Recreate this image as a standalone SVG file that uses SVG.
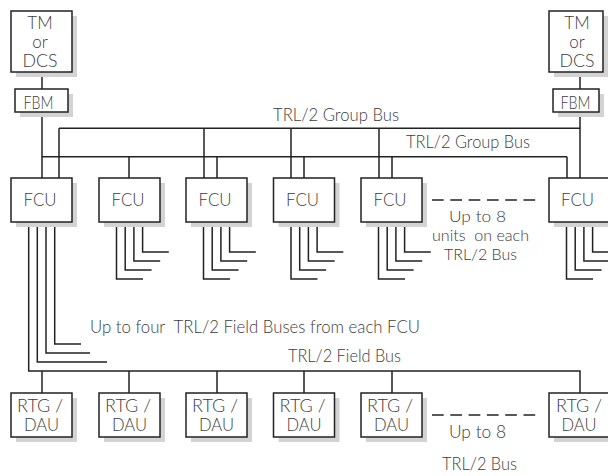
<svg xmlns="http://www.w3.org/2000/svg" width="608" height="476" viewBox="0 0 608 476">
<style>
.shadow{fill:#d3d3d3;stroke:none}
.box{fill:#fff;stroke:#222;stroke-width:1.5}
.ln{fill:none;stroke:#222;stroke-width:1.5}
.dash{fill:none;stroke:#222;stroke-width:1.5;stroke-dasharray:11.7 6.6}
text{font-family:Lato,"Open Sans","Liberation Sans",sans-serif;font-weight:300;font-size:17px;fill:#3c3c3c;white-space:pre}
.c{text-anchor:middle}
.s{font-size:15.5px}
</style>
<rect width="608" height="476" fill="#fff"/>
<g id="connectors">
<path class="ln" d="M42 72V89M42 112V178M580 72V89M580 112V178"/>
<path class="ln" d="M59 128.3H580M59 128.3V178M204 128.3V178M291 128.3V178M379 128.3V178"/>
<path class="ln" d="M42 156.7H567M129 156.7V178M217 156.7V178M304 156.7V178M392 156.7V178M567 156.7V178"/>
<path class="ln" d="M28.7 222V371H580V393M37.3 222V362H107M46 222V353H90M54.7 222V344H81"/>
<path class="ln" d="M42 371V393M129 371V393M217 371V393M304 371V393M392 371V393"/>
<path class="ln" d="M116.5 222V279H143M125.2 222V270H151.6M133.9 222V261H160.2M142.6 222V252H168.8"/>
<path class="ln" d="M203.5 222V279H230M212.2 222V270H238.6M220.9 222V261H247.2M229.6 222V252H255.8"/>
<path class="ln" d="M291 222V279H317.5M299.7 222V270H326.1M308.4 222V261H334.7M317.1 222V252H343.3"/>
<path class="ln" d="M378.5 222V279H405M387.2 222V270H413.6M395.9 222V261H422.2M404.6 222V252H430.8"/>
<path class="ln" d="M566.5 222V279H593M575.2 222V270H601.6M583.9 222V261H610.2M592.6 222V252H618.8"/>
<path class="dash" d="M432 200H536M432 415H536"/>
</g>
<g id="tm_left">
<rect class="shadow" x="16" y="16" width="61" height="61"/>
<rect class="box" x="11" y="11" width="61" height="61"/>
<text class="c" x="40" y="29">TM</text>
<text class="c" x="40" y="48">or</text>
<text class="c" x="40" y="67" textLength="35" lengthAdjust="spacingAndGlyphs">DCS</text>
</g>
<g id="fbm_left">
<rect class="shadow" x="20" y="94" width="53" height="23"/>
<rect class="box" x="15" y="89" width="53" height="23"/>
<text class="c" x="38.5" y="109" textLength="30" lengthAdjust="spacingAndGlyphs">FBM</text>
</g>
<g id="tm_right">
<rect class="shadow" x="554" y="16" width="54" height="61"/>
<rect class="box" x="549" y="11" width="54" height="61"/>
<text class="c" x="577" y="29">TM</text>
<text class="c" x="577" y="48">or</text>
<text class="c" x="577" y="67" textLength="35" lengthAdjust="spacingAndGlyphs">DCS</text>
</g>
<g id="fbm_right">
<rect class="shadow" x="558" y="94" width="46" height="23"/>
<rect class="box" x="553" y="89" width="46" height="23"/>
<text class="c" x="575.5" y="109" textLength="30" lengthAdjust="spacingAndGlyphs">FBM</text>
</g>
<g id="fcu1"><rect class="shadow" x="16" y="183" width="61" height="44"/><rect class="box" x="11" y="178" width="61" height="44"/><text class="c" x="40" y="206" textLength="33" lengthAdjust="spacingAndGlyphs">FCU</text></g>
<g id="fcu2"><rect class="shadow" x="104" y="183" width="61" height="44"/><rect class="box" x="99" y="178" width="61" height="44"/><text class="c" x="128" y="206" textLength="33" lengthAdjust="spacingAndGlyphs">FCU</text></g>
<g id="fcu3"><rect class="shadow" x="191" y="183" width="61" height="44"/><rect class="box" x="186" y="178" width="61" height="44"/><text class="c" x="215" y="206" textLength="33" lengthAdjust="spacingAndGlyphs">FCU</text></g>
<g id="fcu4"><rect class="shadow" x="278.5" y="183" width="61" height="44"/><rect class="box" x="273.5" y="178" width="61" height="44"/><text class="c" x="302.5" y="206" textLength="33" lengthAdjust="spacingAndGlyphs">FCU</text></g>
<g id="fcu5"><rect class="shadow" x="366" y="183" width="61" height="44"/><rect class="box" x="361" y="178" width="61" height="44"/><text class="c" x="390" y="206" textLength="33" lengthAdjust="spacingAndGlyphs">FCU</text></g>
<g id="fcu6"><rect class="shadow" x="554" y="183" width="61" height="44"/><rect class="box" x="549" y="178" width="61" height="44"/><text class="c" x="577.5" y="206" textLength="33" lengthAdjust="spacingAndGlyphs">FCU</text></g>
<g id="rtg1"><rect class="shadow" x="16" y="398" width="61" height="44"/><rect class="box" x="11" y="393" width="61" height="44"/><text class="c" x="40" y="412" textLength="46" lengthAdjust="spacingAndGlyphs">RTG /</text><text class="c" x="41.5" y="431" textLength="35" lengthAdjust="spacingAndGlyphs">DAU</text></g>
<g id="rtg2"><rect class="shadow" x="104" y="398" width="61" height="44"/><rect class="box" x="99" y="393" width="61" height="44"/><text class="c" x="128" y="412" textLength="46" lengthAdjust="spacingAndGlyphs">RTG /</text><text class="c" x="129.5" y="431" textLength="35" lengthAdjust="spacingAndGlyphs">DAU</text></g>
<g id="rtg3"><rect class="shadow" x="191" y="398" width="61" height="44"/><rect class="box" x="186" y="393" width="61" height="44"/><text class="c" x="215" y="412" textLength="46" lengthAdjust="spacingAndGlyphs">RTG /</text><text class="c" x="216.5" y="431" textLength="35" lengthAdjust="spacingAndGlyphs">DAU</text></g>
<g id="rtg4"><rect class="shadow" x="278.5" y="398" width="61" height="44"/><rect class="box" x="273.5" y="393" width="61" height="44"/><text class="c" x="302.5" y="412" textLength="46" lengthAdjust="spacingAndGlyphs">RTG /</text><text class="c" x="304" y="431" textLength="35" lengthAdjust="spacingAndGlyphs">DAU</text></g>
<g id="rtg5"><rect class="shadow" x="366" y="398" width="61" height="44"/><rect class="box" x="361" y="393" width="61" height="44"/><text class="c" x="390" y="412" textLength="46" lengthAdjust="spacingAndGlyphs">RTG /</text><text class="c" x="391.5" y="431" textLength="35" lengthAdjust="spacingAndGlyphs">DAU</text></g>
<g id="rtg6"><rect class="shadow" x="554" y="398" width="61" height="44"/><rect class="box" x="549" y="393" width="61" height="44"/><text class="c" x="579" y="412" textLength="46" lengthAdjust="spacingAndGlyphs">RTG /</text><text class="c" x="579" y="431" textLength="35" lengthAdjust="spacingAndGlyphs">DAU</text></g>
<g id="labels">
<text x="273" y="121" textLength="126" lengthAdjust="spacingAndGlyphs">TRL/2 Group Bus</text>
<text x="406" y="148" textLength="124" lengthAdjust="spacingAndGlyphs">TRL/2 Group Bus</text>
<text class="s" x="449" y="222" textLength="57" lengthAdjust="spacingAndGlyphs">Up to 8</text>
<text class="s" x="432" y="241" textLength="97" lengthAdjust="spacingAndGlyphs">units  on each</text>
<text class="s" x="444" y="260" textLength="73" lengthAdjust="spacingAndGlyphs">TRL/2 Bus</text>
<text x="90" y="333" textLength="330" lengthAdjust="spacingAndGlyphs">Up to four  TRL/2 Field Buses from each FCU</text>
<text x="288" y="362" textLength="113" lengthAdjust="spacingAndGlyphs">TRL/2 Field Bus</text>
<text x="449" y="438" textLength="57" lengthAdjust="spacingAndGlyphs">Up to 8</text>
<text x="442" y="470" textLength="75" lengthAdjust="spacingAndGlyphs">TRL/2 Bus</text>
</g>
</svg>
